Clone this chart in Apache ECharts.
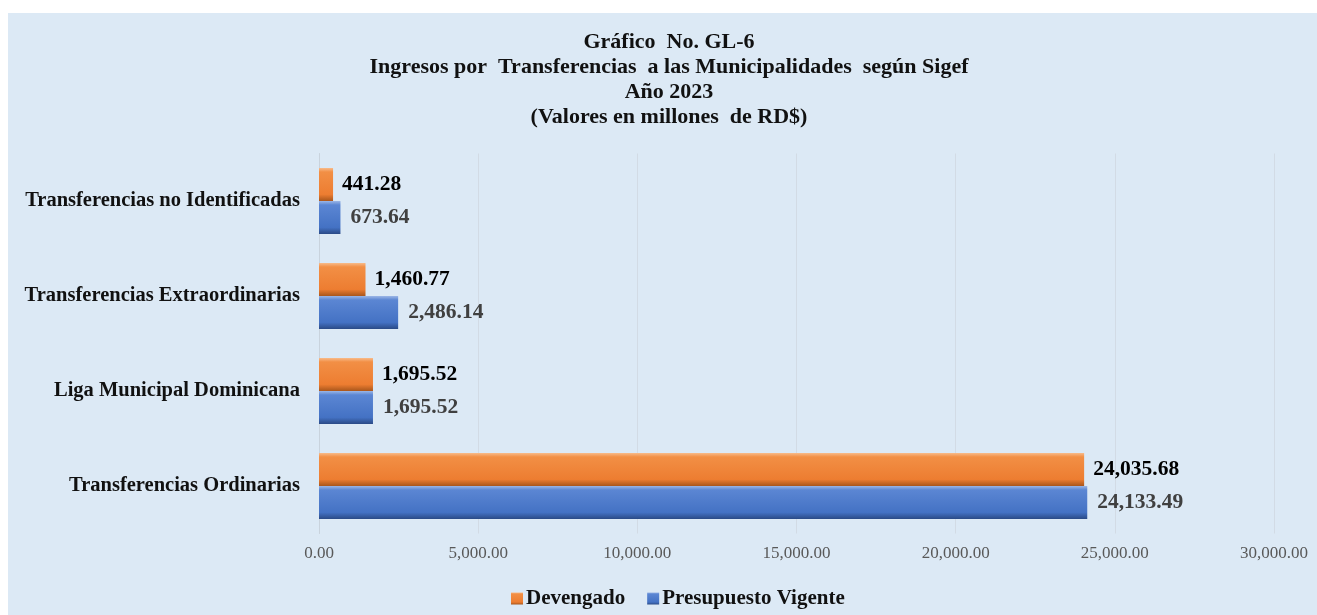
<!DOCTYPE html>
<html>
<head>
<meta charset="utf-8">
<script src="https://cdn.jsdelivr.net/npm/echarts@6/dist/echarts.min.js"></script>
<style>
html,body{margin:0;padding:0;background:#ffffff;}
#chart{width:1317px;height:615px;}
</style>
</head>
<body>
<div id="chart"></div>
<script>
const categories = ['Transferencias Ordinarias', 'Liga Municipal Dominicana', 'Transferencias Extraordinarias', 'Transferencias no Identificadas'];
const devengado = [24035.68, 1695.52, 1460.77, 441.28];
const presupuestoVigente = [24133.49, 1695.52, 2486.14, 673.64];
const seriesNames = ['Devengado', 'Presupuesto Vigente'];
const titleLines = ['Gráfico  No. GL-6', 'Ingresos por  Transferencias  a las Municipalidades  según Sigef', 'Año 2023', '(Valores en millones  de RD$)'];

const FONT = '"Liberation Serif", "Times New Roman", serif';
const fmt = v => v.toLocaleString('en-US', {minimumFractionDigits: 2, maximumFractionDigits: 2});

function grad(top, hi, mid, bot) {
  return new echarts.graphic.LinearGradient(0, 0, 0, 1, [
    {offset: 0, color: top},
    {offset: 0.12, color: hi},
    {offset: 0.8, color: mid},
    {offset: 1, color: bot}
  ]);
}

const chart = echarts.init(document.getElementById('chart'), null, {renderer: 'canvas'});
chart.setOption({
  backgroundColor: '#ffffff',
  animation: false,
  graphic: [{
    type: 'rect', z: -10, silent: true,
    shape: {x: 8, y: 13, width: 1309, height: 602},
    style: {fill: '#dce9f5'}
  }],
  title: {
    text: titleLines.join('\n'),
    left: 669,
    textAlign: 'center',
    top: 30,
    padding: 0,
    textStyle: {fontFamily: FONT, fontWeight: 'bold', fontSize: 22, lineHeight: 25, color: '#111'}
  },
  legend: {
    data: seriesNames,
    left: 506,
    top: 583,
    itemWidth: 12,
    itemHeight: 12,
    itemGap: 22,
    icon: 'rect',
    textStyle: {fontFamily: FONT, fontWeight: 'bold', fontSize: 21, color: '#111', padding: [0, 0, 0, -2]}
  },
  grid: {left: 319, right: 43, top: 153.5, bottom: 81.5, containLabel: false},
  xAxis: {
    type: 'value',
    min: 0, max: 30000, interval: 5000,
    axisLine: {show: false},
    axisTick: {show: false},
    splitLine: {show: true, lineStyle: {color: '#d2dbe5', width: 1}},
    axisLabel: {fontFamily: FONT, fontWeight: 'normal', fontSize: 17, color: '#595959', margin: 12, formatter: v => fmt(v)}
  },
  yAxis: {
    type: 'category',
    data: categories,
    axisLine: {show: true, lineStyle: {color: '#c9d3dd'}},
    axisTick: {show: false},
    axisLabel: {fontFamily: FONT, fontWeight: 'bold', fontSize: 20.5, color: '#111', margin: 19}
  },
  series: [
    {
      name: 'Devengado',
      type: 'bar',
      data: devengado,
      barWidth: 33,
      barGap: '0%',
      itemStyle: {color: grad('#f8bb8a', '#f28f45', '#ed7d31', '#a9561b')},
      label: {show: true, position: 'right', distance: 9, fontFamily: FONT, fontWeight: 'bold', fontSize: 21.5, color: '#000', formatter: p => fmt(p.value)}
    },
    {
      name: 'Presupuesto Vigente',
      type: 'bar',
      data: presupuestoVigente,
      barWidth: 33,
      barGap: '0%',
      itemStyle: {color: grad('#9bb6e6', '#5b86d3', '#4472c4', '#2a4a86')},
      label: {show: true, position: 'right', distance: 10, fontFamily: FONT, fontWeight: 'bold', fontSize: 21.5, color: '#404040', formatter: p => fmt(p.value)}
    }
  ]
});
</script>
</body>
</html>
